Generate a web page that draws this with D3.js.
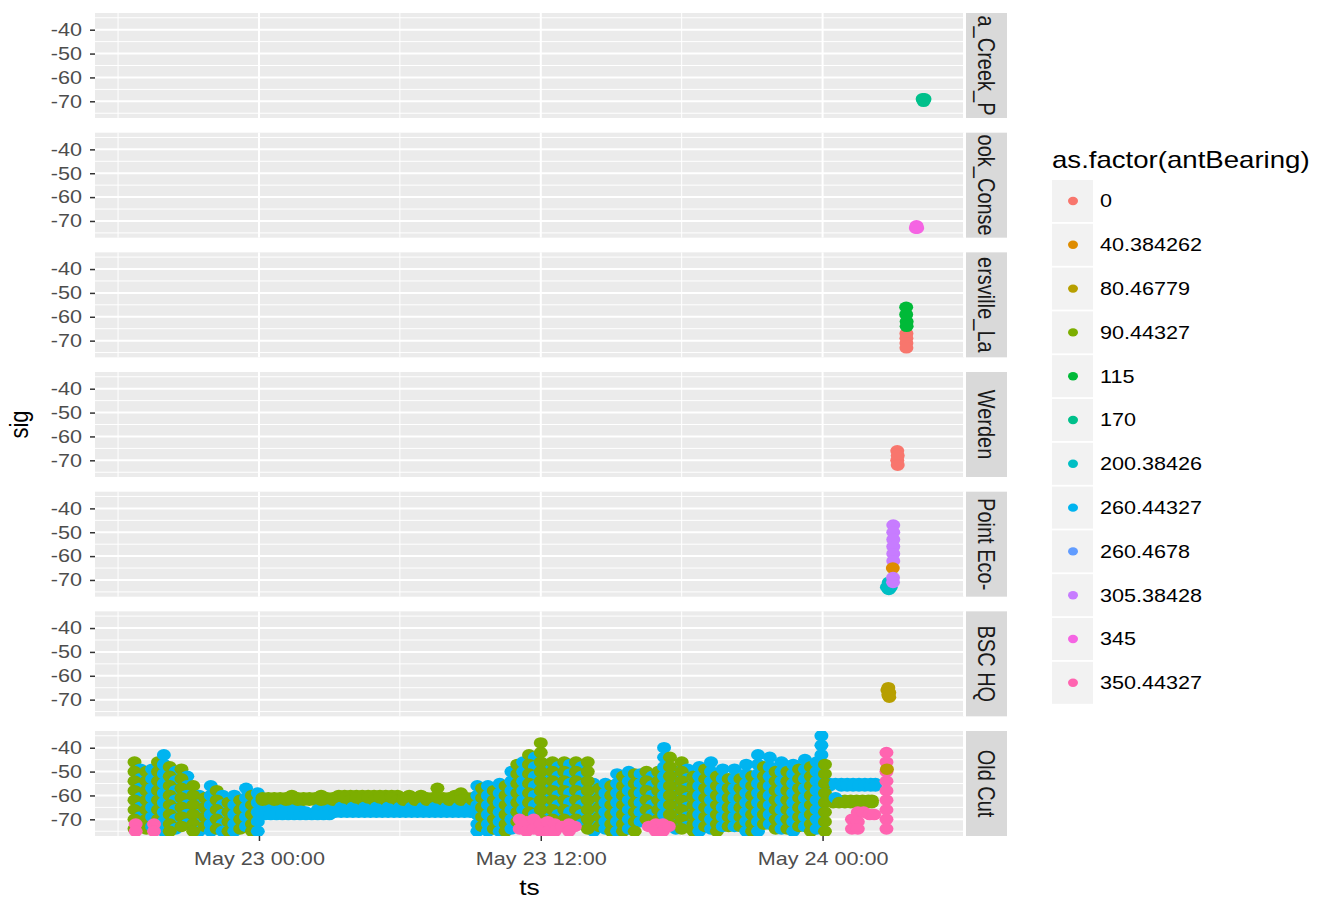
<!DOCTYPE html>
<html>
<head>
<meta charset="utf-8">
<script src="https://cdn.jsdelivr.net/npm/d3@7"></script>
<style>
body { margin: 0; background: #fff; }
text { font-family: "Liberation Sans", Arial, Helvetica, sans-serif; }
</style>
</head>
<body>
<svg id="chart" width="1327" height="901"></svg>
<script>
// times are hours after May 23 00:00
var baseTime = new Date(2017, 4, 23, 0, 0);

var bearingLevels = ['0', '40.384262', '80.46779', '90.44327', '115', '170', '200.38426',
	'260.44327', '260.4678', '305.38428', '345', '350.44327'];
var bearingColors = ['#F8766D', '#DE8C00', '#B79F00', '#7CAE00', '#00BA38', '#00C08B', '#00BFC4',
	'#00B4F0', '#619CFF', '#C77CFF', '#F564E3', '#FF64B0'];

var stationNames = ['a_Creek_P', 'ook_Conse', 'ersville_La', 'Werden', 'Point Eco-', 'BSC HQ', 'Old Cut'];

// columns: [hour, sig, sig, ...]
var creek170 = [[28.26, -69], [28.30, -70], [28.34, -69]];
var brook345 = [[27.97, -73], [28.00, -72], [28.03, -73]];
var ers0 = [[27.57, -67, -69, -71, -73]];
var ers115 = [[27.56, -56, -59], [27.58, -62, -64]];
var werden0 = [[27.18, -66, -70], [27.20, -68, -72]];
var eco305 = [[27.01, -47, -50, -53, -56, -59, -62]];
var eco40 = [[26.99, -65]];
var eco2604678 = [[26.86, -72]];
var eco200 = [[26.74, -73], [26.82, -71, -74], [26.90, -73]];
var eco305low = [[27.00, -69, -71]];
var bsc80 = [[26.76, -66], [26.80, -65, -68], [26.84, -67, -69]];

var oldCut90 = [
	[-5.3, -46, -50, -54, -58, -62, -66, -70, -74],
	[-4.8, -50, -54, -58, -62, -66, -70, -74],
	[-4.3, -46, -50, -54, -58, -62, -66, -70, -74],
	[-3.8, -48, -52, -56, -60, -64, -68, -72, -75],
	[-3.3, -49, -53, -57, -61, -65, -69, -73],
	[-2.8, -56, -60, -64, -68, -72, -75],
	[-2.3, -61, -65, -69, -73],
	[-1.8, -58, -62, -66, -70, -74],
	[-1.3, -63, -67, -71, -75],
	[-0.8, -62, -66, -70, -74],
	[-0.3, -60, -64, -68, -72, -75],
	[0.15, -61, -62], [0.4, -61, -62], [0.65, -61, -62], [0.9, -61, -62], [1.15, -61, -62],
	[1.4, -60, -62], [1.65, -61, -62], [1.9, -61, -62], [2.15, -61, -62], [2.4, -61, -62],
	[2.65, -60, -62], [2.9, -61, -62], [3.15, -61, -62], [3.4, -60, -62], [3.65, -60, -61],
	[3.9, -60, -62], [4.15, -60, -61], [4.4, -60, -62], [4.65, -60, -61], [4.9, -60, -62],
	[5.15, -60, -61], [5.4, -60, -62], [5.65, -60, -61], [5.9, -60, -62], [6.15, -61, -62],
	[6.4, -60, -62], [6.65, -61, -62], [6.9, -60, -62], [7.15, -61, -62], [7.4, -61, -62],
	[7.6, -57, -61], [7.85, -61, -62], [8.1, -61, -62], [8.35, -60, -62], [8.6, -59, -62],
	[8.85, -61, -62], [9.1, -61, -62],
	[9.5, -57, -61, -65, -69, -73],
	[10.0, -58, -62, -66, -70, -74],
	[10.5, -56, -60, -64, -68, -72, -75],
	[11.0, -47, -51, -55, -59, -63, -67, -71],
	[11.5, -43, -47, -51, -55, -59, -63, -67, -71],
	[12.0, -38, -42, -46, -50, -54, -58, -62, -66, -70],
	[12.5, -46, -50, -54, -58, -62, -66, -70],
	[13.0, -46, -50, -54, -58, -62, -66, -70],
	[13.5, -46, -50, -54, -58, -62, -66, -70],
	[14.0, -46, -50, -54, -58, -62, -66, -70, -74],
	[14.5, -57, -61, -65, -69, -73],
	[15.0, -56, -60, -64, -68, -72, -75],
	[15.5, -52, -56, -60, -64, -68, -72, -75],
	[16.0, -51, -55, -59, -63, -67, -71, -75],
	[16.5, -50, -54, -58, -62, -66, -70],
	[17.0, -50, -54, -58, -62, -66, -70],
	[17.5, -44, -48, -52, -56, -60, -64, -68, -72],
	[18.0, -46, -50, -54, -58, -62, -66, -70, -74],
	[18.5, -52, -56, -60, -64, -68, -72, -75],
	[19.0, -49, -53, -57, -61, -65, -69, -73],
	[19.5, -52, -56, -60, -64, -68, -72, -75],
	[20.0, -53, -57, -61, -65, -69, -73],
	[20.5, -53, -57, -61, -65, -69, -73],
	[21.0, -52, -56, -60, -64, -68, -72, -75],
	[21.5, -48, -52, -56, -60, -64, -68, -72],
	[22.0, -50, -54, -58, -62, -66, -70, -74],
	[22.5, -50, -54, -58, -62, -66, -70, -74],
	[23.0, -49, -53, -57, -61, -65, -69, -73],
	[23.5, -48, -52, -56, -60, -64, -68, -72, -75],
	[24.1, -47, -51, -55, -59, -63, -67, -71, -75],
	[24.45, -62, -63], [24.7, -62, -63], [24.95, -62, -63], [25.2, -62, -63],
	[25.45, -62, -63], [25.7, -62, -63], [25.95, -62, -63], [26.1, -62, -63]
];

var oldCut260 = [
	[-5.05, -49, -53, -57, -61, -65, -69, -73],
	[-4.55, -49, -53, -57, -61, -65, -69, -73],
	[-4.05, -43, -47, -51, -55, -59, -63, -67, -71, -75],
	[-3.55, -50, -54, -58, -62, -66, -70, -74],
	[-3.05, -52, -56, -60, -64, -68, -72],
	[-2.55, -60, -64, -68, -72, -75],
	[-2.05, -56, -60, -64, -68, -72, -75],
	[-1.55, -60, -64, -68, -72, -75],
	[-1.05, -60, -64, -68, -72, -75],
	[-0.55, -57, -61, -65, -69, -73],
	[-0.05, -59, -63, -67, -71, -75],
	[0.25, -66, -68], [0.5, -66, -68], [0.75, -66, -68], [1.0, -66, -68], [1.25, -66, -68],
	[1.5, -66, -68], [1.75, -66, -68], [2.0, -67, -68], [2.25, -68], [2.5, -66, -68],
	[2.75, -66, -68], [3.0, -66, -68], [3.25, -65, -67], [3.5, -65, -67], [3.75, -65, -67],
	[4.0, -65, -67], [4.25, -65, -67], [4.5, -65, -67], [4.75, -65, -67], [5.0, -65, -67],
	[5.25, -65, -67], [5.5, -65, -67], [5.75, -65, -67], [6.0, -65, -67], [6.25, -65, -67],
	[6.5, -65, -67], [6.75, -65, -67], [7.0, -65, -67], [7.25, -65, -67], [7.5, -65, -67],
	[7.75, -65, -67], [8.0, -65, -67], [8.25, -65, -67], [8.5, -65, -67], [8.75, -65, -67],
	[9.0, -65, -67],
	[9.3, -56, -60, -64, -68, -72, -75],
	[9.75, -56, -60, -64, -68, -72, -75],
	[10.25, -55, -59, -63, -67, -71, -75],
	[10.75, -50, -54, -58, -62, -66, -70, -74],
	[11.25, -46, -50, -54, -58, -62, -66, -70],
	[11.75, -44, -48, -52, -56, -60, -64, -68],
	[12.25, -47, -51, -55, -59, -63, -67],
	[12.75, -48, -52, -56, -60, -64, -68],
	[13.25, -47, -51, -55, -59, -63, -67],
	[13.75, -48, -52, -56, -60, -64, -68, -72],
	[14.25, -55, -59, -63, -67, -71, -75],
	[14.75, -55, -59, -63, -67, -71, -74],
	[15.25, -51, -55, -59, -63, -67, -71, -75],
	[15.75, -50, -54, -58, -62, -66, -70, -74],
	[16.25, -51, -55, -59, -63, -67, -71],
	[16.75, -52, -56, -60, -64, -68],
	[17.25, -40, -44, -48, -52, -56, -60, -64, -68],
	[17.75, -50, -54, -58, -62, -66, -70, -74],
	[18.25, -49, -53, -57, -61, -65, -69, -73],
	[18.75, -48, -52, -56, -60, -64, -68, -72, -75],
	[19.25, -46, -50, -54, -58, -62, -66, -70, -74],
	[19.75, -49, -53, -57, -61, -65, -69, -73],
	[20.25, -49, -53, -57, -61, -65, -69, -73],
	[20.75, -47, -51, -55, -59, -63, -67, -71, -75],
	[21.25, -43, -47, -51, -55, -59, -63, -67, -71, -75],
	[21.75, -44, -48, -52, -56, -60, -64, -68, -72],
	[22.25, -46, -50, -54, -58, -62, -66, -70, -74],
	[22.75, -47, -51, -55, -59, -63, -67, -71, -75],
	[23.25, -45, -49, -53, -57, -61, -65, -69, -73],
	[23.75, -46, -50, -54, -58, -62, -66, -70, -74],
	[23.95, -35, -39, -43],
	[24.3, -55, -56], [24.55, -55, -61], [24.8, -55, -56], [25.05, -55, -56], [25.3, -55, -56],
	[25.55, -55, -56], [25.8, -55, -56], [26.05, -55, -56], [26.25, -55, -56]
];

var oldCut350 = [
	[-5.25, -72, -75], [-4.47, -72, -75],
	[11.1, -70, -74], [11.4, -71, -75], [11.7, -70, -74], [12.0, -72, -75], [12.3, -71, -75],
	[12.6, -72, -75], [12.9, -73], [13.2, -72, -75], [13.45, -73],
	[16.6, -73], [16.9, -72, -75], [17.2, -72, -75], [17.45, -73],
	[25.25, -70, -74], [25.5, -67, -71, -74], [25.75, -67], [26.0, -68], [26.2, -68],
	[26.72, -42, -46, -50, -54, -58, -62, -66, -70, -74]
];

var oldCut80 = [[26.74, -49]];

var svg = d3.select('#chart');
var panelLeft = 95, panelRight = 964, panelTop = 13, panelH = 105, panelStep = 119.67;
var stripX = 966, stripW = 41;
var stretch = 'scale(1.2,1)';
var rx = 7, ry = 5.8;

function expand(cols, bearing){
	var pts = [];
	cols.forEach(function(c){
		for (var i = 1; i < c.length; i++) {
			pts.push({h: c[0], sig: c[i], bearing: bearing, row: i});
		}
	});
	return pts;
}

// green and blue detections alternate in time, so draw them row by row
// inside each half hour to get the mixed look
var oldCutMain = expand(oldCut90, '90.44327').concat(expand(oldCut260, '260.44327'));
oldCutMain.sort(function(a, b){
	var ba = Math.floor(a.h / 0.5), bb = Math.floor(b.h / 0.5);
	if (ba != bb) return ba - bb;
	if (a.row != b.row) return a.row - b.row;
	return a.h - b.h;
});

var stationPoints = [
	expand(creek170, '170'),
	expand(brook345, '345'),
	expand(ers0, '0').concat(expand(ers115, '115')),
	expand(werden0, '0'),
	expand(eco305, '305.38428').concat(expand(eco40, '40.384262'), expand(eco2604678, '260.4678'),
		expand(eco200, '200.38426'), expand(eco305low, '305.38428')),
	expand(bsc80, '80.46779'),
	oldCutMain.concat(expand(oldCut350, '350.44327'), expand(oldCut80, '80.46779'))
];

var allPts = [].concat.apply([], stationPoints);
var hExt = d3.extent(allPts, function(d){ return d.h; });
var sExt = d3.extent(allPts, function(d){ return d.sig; });
var hPad = (hExt[1] - hExt[0]) * 0.05, sPad = (sExt[1] - sExt[0]) * 0.05;

function toDate(h){ return new Date(baseTime.getTime() + h * 3600 * 1000); }

var x = d3.scaleTime()
	.domain([toDate(hExt[0] - hPad), toDate(hExt[1] + hPad)])
	.range([panelLeft, panelRight]);
var y = d3.scaleLinear()
	.domain([sExt[0] - sPad, sExt[1] + sPad])
	.range([panelH, 0]);

var color = d3.scaleOrdinal().domain(bearingLevels).range(bearingColors);

var xMajor = x.ticks(d3.timeHour.every(12));
var xMinor = x.ticks(d3.timeHour.every(6)).filter(function(d){ return d.getHours() % 12 != 0; });
var yAll = y.ticks(8);
var yMajor = yAll.filter(function(d){ return d % 10 == 0; });
var yMinor = yAll.filter(function(d){ return d % 10 != 0; });

svg.append('rect').attr('width', 1327).attr('height', 901).style('fill', '#fff');

var defs = svg.append('defs');

stationNames.forEach(function(name, i){
	var top = panelTop + i * panelStep;
	var g = svg.append('g').attr('transform', 'translate(0,' + top + ')');

	defs.append('clipPath').attr('id', 'clipP' + i)
		.append('rect').attr('x', panelLeft).attr('y', 0)
		.attr('width', panelRight - panelLeft).attr('height', panelH);
	defs.append('clipPath').attr('id', 'clipS' + i)
		.append('rect').attr('x', stripX).attr('y', top)
		.attr('width', stripW).attr('height', panelH);

	g.append('rect')
		.attr('x', panelLeft).attr('y', 0)
		.attr('width', panelRight - panelLeft).attr('height', panelH)
		.style('fill', '#EBEBEB');

	g.selectAll('.yminor').data(yMinor).enter().append('line')
		.attr('x1', panelLeft).attr('x2', panelRight)
		.attr('y1', function(d){ return y(d); }).attr('y2', function(d){ return y(d); })
		.style('stroke', '#fff').style('stroke-width', 1);
	g.selectAll('.xminor').data(xMinor).enter().append('line')
		.attr('x1', function(d){ return x(d); }).attr('x2', function(d){ return x(d); })
		.attr('y1', 0).attr('y2', panelH)
		.style('stroke', '#fff').style('stroke-width', 1);
	g.selectAll('.ymajor').data(yMajor).enter().append('line')
		.attr('x1', panelLeft).attr('x2', panelRight)
		.attr('y1', function(d){ return y(d); }).attr('y2', function(d){ return y(d); })
		.style('stroke', '#fff').style('stroke-width', 2);
	g.selectAll('.xmajor').data(xMajor).enter().append('line')
		.attr('x1', function(d){ return x(d); }).attr('x2', function(d){ return x(d); })
		.attr('y1', 0).attr('y2', panelH)
		.style('stroke', '#fff').style('stroke-width', 2);

	g.append('g').attr('clip-path', 'url(#clipP' + i + ')')
		.selectAll('ellipse').data(stationPoints[i]).enter().append('ellipse')
		.attr('cx', function(d){ return x(toDate(d.h)); })
		.attr('cy', function(d){ return y(d.sig); })
		.attr('rx', rx).attr('ry', ry)
		.style('fill', function(d){ return color(d.bearing); });

	// y axis
	var yAxis = g.append('g').attr('transform', 'translate(' + panelLeft + ',0)')
		.call(d3.axisLeft(y).tickValues(yMajor).tickSize(5).tickPadding(5.8)
			.tickFormat(function(d){ return String(d); }));
	yAxis.select('.domain').remove();
	yAxis.selectAll('line').style('stroke', '#333').style('stroke-width', 1.5);
	yAxis.selectAll('text')
		.attr('transform', stretch)
		.style('font-size', '18px').style('fill', '#4D4D4D')
		.style('font-family', '"Liberation Sans", Arial, sans-serif');

	// strip
	svg.append('rect')
		.attr('x', stripX).attr('y', top)
		.attr('width', stripW).attr('height', panelH)
		.style('fill', '#D9D9D9');
	svg.append('g').attr('clip-path', 'url(#clipS' + i + ')')
		.append('text')
		.attr('transform', 'translate(' + (stripX + stripW / 2) + ',' + (top + panelH / 2) + ') ' + stretch + ' rotate(90)')
		.attr('text-anchor', 'middle')
		.attr('dy', '0.35em')
		.style('font-size', '20px').style('fill', '#1A1A1A')
		.text(name);
});

// x axis under the last panel
var bottom = panelTop + 6 * panelStep + panelH;
var xAxis = svg.append('g').attr('transform', 'translate(0,' + bottom + ')')
	.call(d3.axisBottom(x).tickValues(xMajor).tickSize(5).tickPadding(11)
		.tickFormat(d3.timeFormat('%b %d %H:%M')));
xAxis.select('.domain').remove();
xAxis.selectAll('line').style('stroke', '#333').style('stroke-width', 1.5);
xAxis.selectAll('text')
	.attr('transform', stretch)
	.style('font-size', '18px').style('fill', '#4D4D4D')
	.style('font-family', '"Liberation Sans", Arial, sans-serif');

svg.append('text')
	.attr('transform', 'translate(' + ((panelLeft + panelRight) / 2) + ',895) ' + stretch)
	.attr('text-anchor', 'middle')
	.style('font-size', '22px').style('fill', '#000')
	.text('ts');

svg.append('text')
	.attr('transform', 'translate(28,' + ((panelTop + bottom) / 2) + ') ' + stretch + ' rotate(-90)')
	.attr('text-anchor', 'middle')
	.style('font-size', '22px').style('fill', '#000')
	.text('sig');

// legend
var legendX = 1052, legendY0 = 201, legendStep = 43.8;
svg.append('text')
	.attr('transform', 'translate(' + legendX + ',168) ' + stretch)
	.style('font-size', '23px').style('fill', '#000')
	.text('as.factor(antBearing)');

var key = svg.selectAll('.key').data(bearingLevels).enter().append('g')
	.attr('class', 'key')
	.attr('transform', function(d, i){ return 'translate(' + legendX + ',' + (legendY0 + i * legendStep) + ')'; });
key.append('rect')
	.attr('x', 0).attr('y', -21).attr('width', 41).attr('height', 42)
	.style('fill', '#F2F2F2');
key.append('ellipse')
	.attr('cx', 21).attr('cy', 0).attr('rx', 5).attr('ry', 4.2)
	.style('fill', function(d){ return color(d); });
key.append('text')
	.attr('transform', 'translate(48,0) ' + stretch)
	.attr('dy', '0.35em')
	.style('font-size', '18px').style('fill', '#000')
	.text(function(d){ return d; });
</script>
</body>
</html>
